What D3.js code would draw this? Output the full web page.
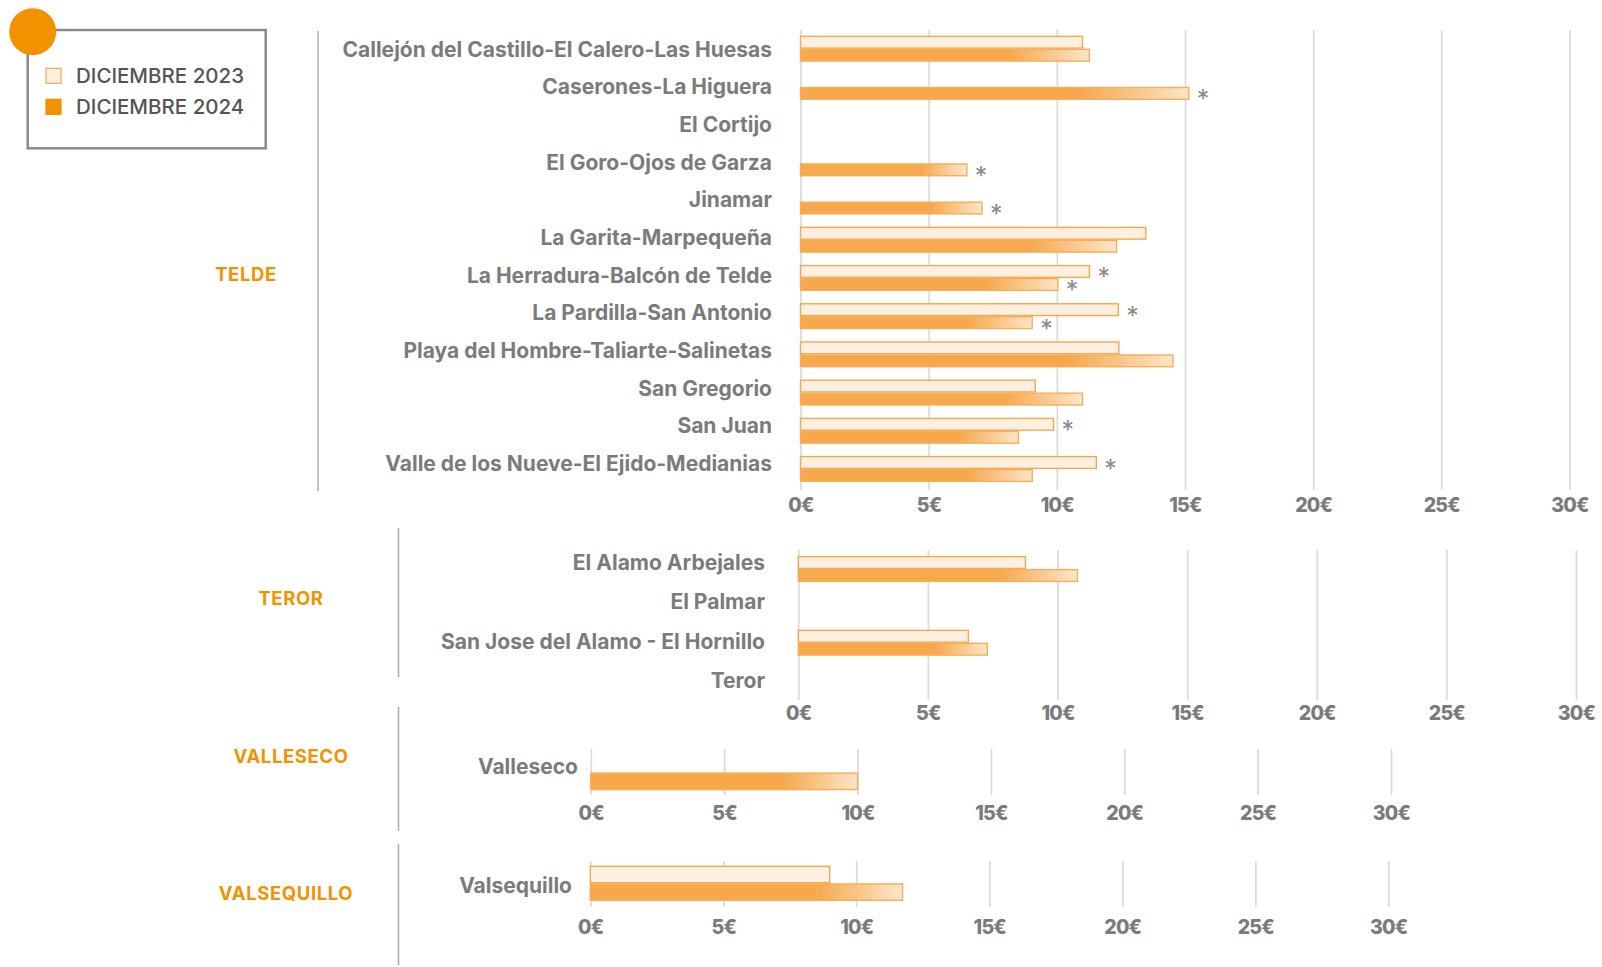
<!DOCTYPE html>
<html>
<head>
<meta charset="utf-8">
<script src="https://cdn.jsdelivr.net/npm/d3@7"></script>
<style>
  html, body { margin: 0; padding: 0; background: #ffffff; }
  svg { display: block; }
  text { font-family: Inter, "Open Sans", sans-serif; }
</style>
</head>
<body>
<svg id="chart" width="1602" height="967"></svg>
<script>
// ---------------- DATA ----------------
const seriesKeys = ["2023", "2024"];
const legendLabels = ["DICIEMBRE 2023", "DICIEMBRE 2024"];
const tickValues = [0, 5, 10, 15, 20, 25, 30];

const teldeCats = [
  "Callejón del Castillo-El Calero-Las Huesas",
  "Caserones-La Higuera",
  "El Cortijo",
  "El Goro-Ojos de Garza",
  "Jinamar",
  "La Garita-Marpequeña",
  "La Herradura-Balcón de Telde",
  "La Pardilla-San Antonio",
  "Playa del Hombre-Taliarte-Salinetas",
  "San Gregorio",
  "San Juan",
  "Valle de los Nueve-El Ejido-Medianias"
];
const telde2023 = [11.0, null, null, null, null, 13.47, 11.27, 12.4, 12.42, 9.16, 9.87, 11.54];
const telde2024 = [11.27, 15.15, null, 6.49, 7.08, 12.33, 10.04, 9.04, 14.53, 11.0, 8.5, 9.04];
const teldeStar2023 = [false, false, false, false, false, false, true, true, false, false, true, true];
const teldeStar2024 = [false, true, false, true, true, false, true, true, false, false, false, false];

const terorCats = ["El Alamo Arbejales", "El Palmar", "San Jose del Alamo - El Hornillo", "Teror"];
const teror2023 = [8.76, null, 6.56, null];
const teror2024 = [10.77, null, 7.29, null];
const terorStar2023 = [false, false, false, false];
const terorStar2024 = [false, false, false, false];

const vallesecoCats = ["Valleseco"];
const valleseco2023 = [null];
const valleseco2024 = [10.0];

const valsequilloCats = ["Valsequillo"];
const valsequillo2023 = [9.0];
const valsequillo2024 = [11.74];

// ---------------- LAYOUT ----------------
const panels = [
  { name: "TELDE", cats: teldeCats, v23: telde2023, v24: telde2024, s23: teldeStar2023, s24: teldeStar2024,
    x: [800.5, 1569.5], band: [29.6, 488.1], pad: 0.32, grid: [30, 490], tickY: 505,
    labelRight: 772, labelY: [49.5, 463.5], sepX: 318, sep: [31, 491], nameX: 246, nameY: 275 },
  { name: "TEROR", cats: terorCats, v23: teror2023, v24: teror2024, s23: terorStar2023, s24: terorStar2024,
    x: [798.3, 1576], band: [550.6, 698], pad: 0.295, grid: [550, 700], tickY: 713,
    labelRight: 765, labelY: [562.5, 681], sepX: 398.5, sep: [528, 677], nameX: 291, nameY: 599 },
  { name: "VALLESECO", cats: vallesecoCats, v23: valleseco2023, v24: valleseco2024, s23: [false], s24: [false],
    x: [590.8, 1391], band: [745, 800], pad: 0.356, grid: [749, 795], tickY: 813,
    labelRight: 578, labelY: [767, 767], sepX: 398.5, sep: [707, 831], nameX: 291, nameY: 757 },
  { name: "VALSEQUILLO", cats: valsequilloCats, v23: valsequillo2023, v24: valsequillo2024, s23: [false], s24: [false],
    x: [590.3, 1388.3], band: [855.8, 910.8], pad: 0.36, grid: [861, 907], tickY: 927,
    labelRight: 572, labelY: [886, 886], sepX: 398.5, sep: [844, 965], nameX: 286, nameY: 894 }
];

const svg = d3.select("#chart");
const defs = svg.append("defs");
const grad = defs.append("linearGradient").attr("id", "g2024")
  .attr("x1", "0").attr("x2", "1").attr("y1", "0").attr("y2", "0");
grad.append("stop").attr("offset", "0").attr("stop-color", "#f6a84b");
grad.append("stop").attr("offset", "0.72").attr("stop-color", "#f6a84b");
grad.append("stop").attr("offset", "1").attr("stop-color", "#fde5c9");

const GRAY = "#7b7b7b";
const ORANGE = "#f39200";

panels.forEach(p => {
  const g = svg.append("g");
  const x = d3.scaleLinear().domain([0, 30]).range(p.x);
  const y = d3.scaleBand().domain(p.cats).range(p.band).paddingInner(p.pad).paddingOuter(p.pad / 2);
  const ys = d3.scaleBand().domain(seriesKeys).range([0, y.bandwidth()]);
  const yl = d3.scalePoint().domain(p.cats).range(p.labelY);

  // separator line
  g.append("line").attr("x1", p.sepX).attr("x2", p.sepX).attr("y1", p.sep[0]).attr("y2", p.sep[1])
    .attr("stroke", "#aaaaaa").attr("stroke-width", 1.5);

  // panel name
  g.append("text").attr("x", p.nameX).attr("y", p.nameY).attr("text-anchor", "middle")
    .attr("dy", "0.35em").attr("fill", ORANGE).attr("font-size", 18.5).attr("font-weight", 700)
    .attr("letter-spacing", 0.6)
    .text(p.name);

  // grid + ticks via axis
  const axis = d3.axisBottom(x).tickValues(tickValues).tickFormat(d => d + "€")
    .tickSize(-(p.grid[1] - p.grid[0])).tickSizeOuter(0);
  const ag = g.append("g").attr("transform", `translate(0,${p.grid[1]})`).call(axis);
  ag.select(".domain").remove();
  ag.selectAll(".tick line").attr("stroke", "#dcdcdc").attr("stroke-width", 1.8);
  ag.selectAll(".tick text").attr("y", p.tickY - p.grid[1]).attr("dy", "0.35em")
    .attr("fill", GRAY).attr("font-size", 19.5).attr("font-weight", 800)
    .attr("letter-spacing", -0.8).attr("font-family", "Inter, sans-serif");

  // category labels
  g.selectAll("text.cat").data(p.cats).join("text").attr("class", "cat")
    .attr("x", p.labelRight).attr("y", d => yl(d)).attr("dy", "0.35em")
    .attr("text-anchor", "end").attr("fill", GRAY).attr("font-size", 21).attr("font-weight", 700)
    .text(d => d);

  // bars
  const rows = [];
  p.cats.forEach((c, i) => {
    rows.push({ cat: c, key: "2023", v: p.v23[i], star: p.s23[i] });
    rows.push({ cat: c, key: "2024", v: p.v24[i], star: p.s24[i] });
  });
  const valid = rows.filter(r => r.v != null);

  g.selectAll("rect.bar").data(valid).join("rect").attr("class", "bar")
    .attr("x", x(0))
    .attr("y", d => y(d.cat) + ys(d.key) + 0.6)
    .attr("width", d => x(d.v) - x(0))
    .attr("height", ys.bandwidth() - 1.2)
    .attr("fill", d => d.key === "2023" ? "#fdf0e1" : "url(#g2024)")
    .attr("stroke", d => d.key === "2023" ? "#f6a850" : "#f6ae5c")
    .attr("stroke-width", 1.4);

  g.selectAll("text.star").data(valid.filter(r => r.star)).join("text").attr("class", "star")
    .attr("x", d => x(d.v) + 8)
    .attr("y", d => y(d.cat) + ys(d.key) + ys.bandwidth() / 2)
    .attr("dy", "0.6em")
    .attr("fill", "#8a8a8a").attr("font-size", 25).attr("font-weight", 400)
    .text("*");
});

// ---------------- LEGEND ----------------
const lg = svg.append("g");
lg.append("rect").attr("x", 27.7).attr("y", 30).attr("width", 238).attr("height", 118.3)
  .attr("fill", "#ffffff").attr("stroke", "#8a8a8a").attr("stroke-width", 2.5);
lg.append("circle").attr("cx", 32.7).attr("cy", 31.7).attr("r", 23.5).attr("fill", ORANGE);
const le = lg.selectAll("g.le").data(legendLabels).join("g").attr("class", "le")
  .attr("transform", (d, i) => `translate(46,${68.3 + i * 31})`);
le.append("rect").attr("width", 15).attr("height", 15)
  .attr("fill", (d, i) => i === 0 ? "#fdf0e1" : ORANGE)
  .attr("stroke", (d, i) => i === 0 ? "#f6a850" : ORANGE).attr("stroke-width", 1.2);
le.append("text").attr("x", 30).attr("y", 15).attr("fill", "#555555")
  .attr("font-size", 20.5).attr("font-weight", 500).text(d => d);
</script>
</body>
</html>
